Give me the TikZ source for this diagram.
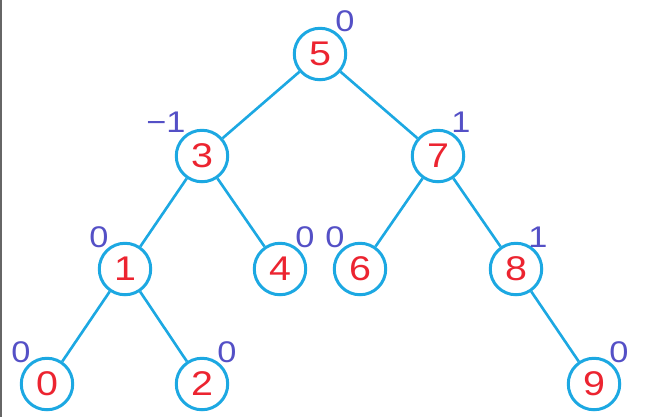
\documentclass[tikz,border=0pt]{standalone}
\usepackage{fontspec}
\setmainfont{Liberation Sans}[FakeStretch=1.15]
\usepackage{xcolor}
\usetikzlibrary{positioning}
\definecolor{avlblue}{RGB}{28,168,226}
\definecolor{avlred}{RGB}{236,36,48}
\definecolor{avlbal}{RGB}{84,80,198}
\tikzset{
    vertex/.style={circle, draw=avlblue, line width=1.7pt, fill=white, minimum size=1.03cm, inner sep=0pt, text=avlred, font=\fontsize{19.5}{20}\selectfont},
    balance/.style={inner sep=0pt, text=avlbal, font=\fontsize{17}{17}\selectfont},
    tree edge/.style={draw=avlblue, line width=1.5pt}
}

\begin{document}
\begin{tikzpicture}[x=0.02cm, y=-0.02cm]
    \useasboundingbox (0,0) rectangle (646,417);
    \draw[gray!80!black, line width=1pt] (0.8,0) -- (0.8,417);

    % Knoten
    \node[vertex] (n5) at (320,54) {5};
    \node[vertex] (n3) at (202,156) {3};
    \node[vertex] (n7) at (438,156) {7};
    \node[vertex] (n1) at (125,269) {1};
    \node[vertex] (n4) at (280,269) {4};
    \node[vertex] (n6) at (360,269) {6};
    \node[vertex] (n8) at (516,269) {8};
    \node[vertex] (n0) at (47,384) {0};
    \node[vertex] (n2) at (202,384) {2};
    \node[vertex] (n9) at (594,384) {9};

    % Kanten
    \draw[tree edge] (n5) -- (n3);
    \draw[tree edge] (n5) -- (n7);
    \draw[tree edge] (n3) -- (n1);
    \draw[tree edge] (n3) -- (n4);
    \draw[tree edge] (n7) -- (n6);
    \draw[tree edge] (n7) -- (n8);
    \draw[tree edge] (n1) -- (n0);
    \draw[tree edge] (n1) -- (n2);
    \draw[tree edge] (n8) -- (n9);

    % Balancefaktoren
    \node[balance] (b5) at (345,21) {0};
    \node[balance] (b3) at (166,122) {−1};
    \node[balance] (b7) at (461,122) {1};
    \node[balance] (b1) at (99,237) {0};
    \node[balance] (b4) at (305,237) {0};
    \node[balance] (b6) at (335,237) {0};
    \node[balance] (b8) at (538,237) {1};
    \node[balance] (b0) at (21,352) {0};
    \node[balance] (b2) at (227,352) {0};
    \node[balance] (b9) at (619,352) {0};
\end{tikzpicture}
\end{document}
